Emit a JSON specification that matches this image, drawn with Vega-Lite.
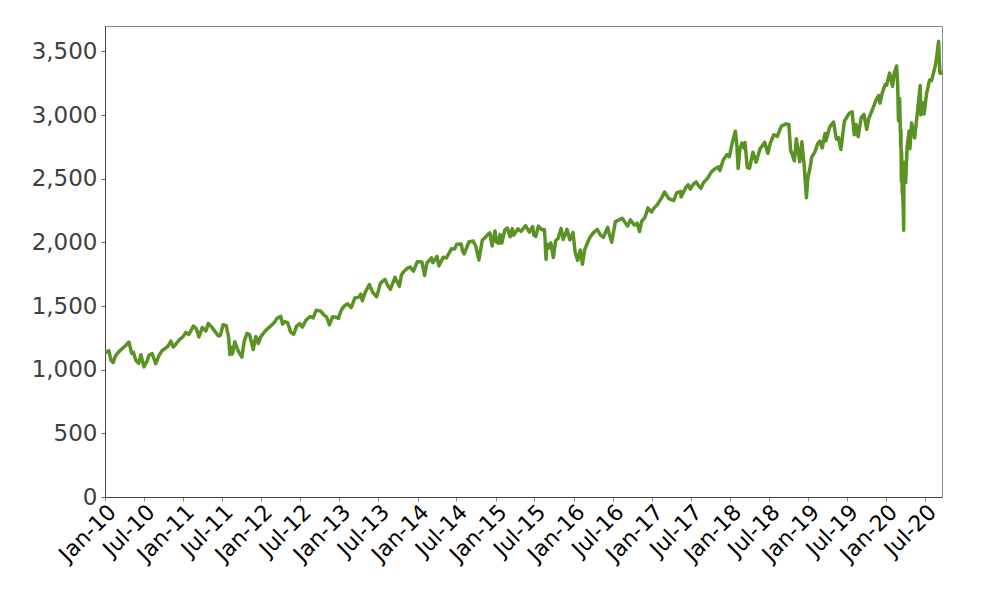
{
  "$schema": "https://vega.github.io/schema/vega-lite/v6.json",
  "width": 837,
  "height": 471,
  "autosize": "none",
  "padding": {"left": 105, "top": 26, "right": 58, "bottom": 103},
  "background": "white",
  "config": {
    "view": {"stroke": "#8a8a8a", "strokeWidth": 1},
    "font": "DejaVu Sans"
  },
  "data": {"values": [
    {"d":"2010-01-04","v":1133},{"d":"2010-01-19","v":1150},{"d":"2010-01-29","v":1074},{"d":"2010-02-08","v":1056},{"d":"2010-02-19","v":1109},{"d":"2010-03-05","v":1138},{"d":"2010-03-19","v":1160},{"d":"2010-04-05","v":1187},{"d":"2010-04-23","v":1217},{"d":"2010-05-06","v":1128},{"d":"2010-05-14","v":1136},{"d":"2010-05-25","v":1074},{"d":"2010-06-07","v":1050},{"d":"2010-06-18","v":1117},{"d":"2010-07-02","v":1022},{"d":"2010-07-16","v":1065},{"d":"2010-07-26","v":1115},{"d":"2010-08-09","v":1127},{"d":"2010-08-26","v":1047},{"d":"2010-09-10","v":1110},{"d":"2010-09-24","v":1148},{"d":"2010-10-08","v":1165},{"d":"2010-10-22","v":1183},{"d":"2010-11-05","v":1225},{"d":"2010-11-16","v":1178},{"d":"2010-12-01","v":1206},{"d":"2010-12-15","v":1236},{"d":"2010-12-31","v":1258},
    {"d":"2011-01-14","v":1293},{"d":"2011-01-28","v":1276},{"d":"2011-02-18","v":1343},{"d":"2011-03-04","v":1321},{"d":"2011-03-16","v":1257},{"d":"2011-04-01","v":1332},{"d":"2011-04-18","v":1305},{"d":"2011-04-29","v":1364},{"d":"2011-05-13","v":1338},{"d":"2011-05-23","v":1317},{"d":"2011-06-15","v":1265},{"d":"2011-06-24","v":1268},{"d":"2011-07-07","v":1353},{"d":"2011-07-22","v":1345},{"d":"2011-08-02","v":1254},{"d":"2011-08-08","v":1119},{"d":"2011-08-12","v":1179},{"d":"2011-08-19","v":1123},{"d":"2011-08-31","v":1219},{"d":"2011-09-12","v":1162},{"d":"2011-09-22","v":1129},{"d":"2011-10-03","v":1099},{"d":"2011-10-14","v":1225},{"d":"2011-10-27","v":1285},{"d":"2011-11-08","v":1276},{"d":"2011-11-25","v":1159},{"d":"2011-12-07","v":1261},{"d":"2011-12-19","v":1206},{"d":"2011-12-30","v":1258},
    {"d":"2012-01-13","v":1289},{"d":"2012-01-27","v":1316},{"d":"2012-02-15","v":1344},{"d":"2012-03-02","v":1370},{"d":"2012-03-15","v":1403},{"d":"2012-04-02","v":1419},{"d":"2012-04-10","v":1358},{"d":"2012-04-20","v":1378},{"d":"2012-05-04","v":1369},{"d":"2012-05-18","v":1295},{"d":"2012-06-01","v":1278},{"d":"2012-06-15","v":1343},{"d":"2012-06-29","v":1362},{"d":"2012-07-12","v":1334},{"d":"2012-07-27","v":1386},{"d":"2012-08-17","v":1418},{"d":"2012-08-31","v":1406},{"d":"2012-09-14","v":1466},{"d":"2012-10-05","v":1461},{"d":"2012-10-19","v":1433},{"d":"2012-11-02","v":1414},{"d":"2012-11-15","v":1353},{"d":"2012-11-30","v":1416},{"d":"2012-12-14","v":1413},{"d":"2012-12-28","v":1402},{"d":"2012-12-31","v":1426},
    {"d":"2013-01-11","v":1472},{"d":"2013-01-25","v":1503},{"d":"2013-02-08","v":1518},{"d":"2013-02-25","v":1488},{"d":"2013-03-14","v":1563},{"d":"2013-04-02","v":1570},{"d":"2013-04-11","v":1593},{"d":"2013-04-18","v":1541},{"d":"2013-05-03","v":1614},{"d":"2013-05-21","v":1669},{"d":"2013-06-05","v":1609},{"d":"2013-06-24","v":1573},{"d":"2013-07-12","v":1680},{"d":"2013-07-23","v":1696},{"d":"2013-08-02","v":1709},{"d":"2013-08-15","v":1661},{"d":"2013-08-27","v":1631},{"d":"2013-09-18","v":1725},{"d":"2013-10-08","v":1655},{"d":"2013-10-18","v":1745},{"d":"2013-10-29","v":1771},{"d":"2013-11-15","v":1798},{"d":"2013-11-27","v":1807},{"d":"2013-12-13","v":1775},{"d":"2013-12-31","v":1848},
    {"d":"2014-01-15","v":1848},{"d":"2014-01-22","v":1844},{"d":"2014-02-03","v":1741},{"d":"2014-02-14","v":1838},{"d":"2014-03-07","v":1878},{"d":"2014-03-14","v":1841},{"d":"2014-04-02","v":1890},{"d":"2014-04-11","v":1815},{"d":"2014-05-01","v":1883},{"d":"2014-05-16","v":1878},{"d":"2014-06-09","v":1951},{"d":"2014-06-24","v":1949},{"d":"2014-07-03","v":1985},{"d":"2014-07-24","v":1988},{"d":"2014-07-31","v":1931},{"d":"2014-08-07","v":1909},{"d":"2014-08-29","v":2003},{"d":"2014-09-18","v":2011},{"d":"2014-09-30","v":1972},{"d":"2014-10-15","v":1862},{"d":"2014-10-31","v":2018},{"d":"2014-11-14","v":2039},{"d":"2014-11-28","v":2067},{"d":"2014-12-05","v":2075},{"d":"2014-12-16","v":1972},{"d":"2014-12-29","v":2090},
    {"d":"2015-01-06","v":2003},{"d":"2015-01-15","v":1992},{"d":"2015-01-22","v":2063},{"d":"2015-01-30","v":1995},{"d":"2015-02-13","v":2096},{"d":"2015-02-25","v":2113},{"d":"2015-03-10","v":2044},{"d":"2015-03-20","v":2108},{"d":"2015-03-26","v":2056},{"d":"2015-04-15","v":2106},{"d":"2015-04-30","v":2086},{"d":"2015-05-21","v":2131},{"d":"2015-06-08","v":2080},{"d":"2015-06-23","v":2124},{"d":"2015-06-29","v":2057},{"d":"2015-07-08","v":2046},{"d":"2015-07-20","v":2128},{"d":"2015-08-05","v":2100},{"d":"2015-08-17","v":2102},{"d":"2015-08-20","v":2035},{"d":"2015-08-24","v":1893},{"d":"2015-08-25","v":1867},{"d":"2015-08-28","v":1989},{"d":"2015-09-03","v":1951},{"d":"2015-09-16","v":1996},{"d":"2015-09-28","v":1882},{"d":"2015-10-09","v":2015},{"d":"2015-10-20","v":2030},{"d":"2015-11-03","v":2109},{"d":"2015-11-13","v":2023},{"d":"2015-12-01","v":2102},{"d":"2015-12-14","v":2021},{"d":"2015-12-29","v":2078},
    {"d":"2016-01-08","v":1922},{"d":"2016-01-20","v":1859},{"d":"2016-02-01","v":1940},{"d":"2016-02-11","v":1829},{"d":"2016-02-22","v":1946},{"d":"2016-03-17","v":2040},{"d":"2016-04-01","v":2073},{"d":"2016-04-20","v":2102},{"d":"2016-05-06","v":2057},{"d":"2016-05-19","v":2040},{"d":"2016-06-08","v":2119},{"d":"2016-06-15","v":2071},{"d":"2016-06-27","v":2001},{"d":"2016-07-14","v":2163},{"d":"2016-08-15","v":2190},{"d":"2016-09-09","v":2128},{"d":"2016-09-22","v":2177},{"d":"2016-10-11","v":2136},{"d":"2016-10-24","v":2151},{"d":"2016-11-04","v":2085},{"d":"2016-11-14","v":2165},{"d":"2016-11-30","v":2199},{"d":"2016-12-13","v":2271},{"d":"2016-12-30","v":2239},
    {"d":"2017-01-13","v":2275},{"d":"2017-01-26","v":2296},{"d":"2017-02-15","v":2350},{"d":"2017-03-01","v":2396},{"d":"2017-03-21","v":2344},{"d":"2017-04-13","v":2329},{"d":"2017-04-26","v":2388},{"d":"2017-05-16","v":2400},{"d":"2017-05-17","v":2357},{"d":"2017-06-09","v":2432},{"d":"2017-06-19","v":2453},{"d":"2017-06-29","v":2419},{"d":"2017-07-14","v":2459},{"d":"2017-07-27","v":2475},{"d":"2017-08-10","v":2438},{"d":"2017-08-18","v":2425},{"d":"2017-08-31","v":2472},{"d":"2017-09-20","v":2508},{"d":"2017-10-05","v":2552},{"d":"2017-10-20","v":2575},{"d":"2017-11-08","v":2594},{"d":"2017-11-15","v":2564},{"d":"2017-11-30","v":2648},{"d":"2017-12-18","v":2690},{"d":"2017-12-29","v":2674},
    {"d":"2018-01-12","v":2786},{"d":"2018-01-26","v":2873},{"d":"2018-02-02","v":2762},{"d":"2018-02-08","v":2581},{"d":"2018-02-16","v":2732},{"d":"2018-02-26","v":2780},{"d":"2018-03-08","v":2739},{"d":"2018-03-12","v":2784},{"d":"2018-03-23","v":2588},{"d":"2018-04-02","v":2582},{"d":"2018-04-18","v":2708},{"d":"2018-05-03","v":2630},{"d":"2018-05-21","v":2733},{"d":"2018-06-12","v":2787},{"d":"2018-06-27","v":2700},{"d":"2018-07-09","v":2784},{"d":"2018-07-25","v":2846},{"d":"2018-08-10","v":2833},{"d":"2018-08-29","v":2914},{"d":"2018-09-20","v":2931},{"d":"2018-10-03","v":2926},{"d":"2018-10-11","v":2728},{"d":"2018-10-29","v":2641},{"d":"2018-11-07","v":2814},{"d":"2018-11-23","v":2633},{"d":"2018-12-03","v":2790},{"d":"2018-12-14","v":2600},{"d":"2018-12-24","v":2351},{"d":"2018-12-31","v":2507},
    {"d":"2019-01-11","v":2596},{"d":"2019-01-18","v":2671},{"d":"2019-02-01","v":2707},{"d":"2019-02-15","v":2776},{"d":"2019-02-25","v":2796},{"d":"2019-03-08","v":2743},{"d":"2019-03-21","v":2855},{"d":"2019-03-25","v":2798},{"d":"2019-04-12","v":2907},{"d":"2019-04-30","v":2946},{"d":"2019-05-13","v":2812},{"d":"2019-05-23","v":2823},{"d":"2019-06-03","v":2730},{"d":"2019-06-20","v":2954},{"d":"2019-07-12","v":3014},{"d":"2019-07-26","v":3026},{"d":"2019-08-05","v":2845},{"d":"2019-08-13","v":2926},{"d":"2019-08-23","v":2830},{"d":"2019-09-06","v":2979},{"d":"2019-09-19","v":3006},{"d":"2019-10-02","v":2888},{"d":"2019-10-11","v":2970},{"d":"2019-10-28","v":3040},{"d":"2019-11-15","v":3120},{"d":"2019-11-27","v":3154},{"d":"2019-12-03","v":3094},{"d":"2019-12-13","v":3169},{"d":"2019-12-27","v":3241},
    {"d":"2020-01-03","v":3235},{"d":"2020-01-17","v":3330},{"d":"2020-01-31","v":3226},{"d":"2020-02-07","v":3328},{"d":"2020-02-19","v":3386},{"d":"2020-02-24","v":3226},{"d":"2020-02-27","v":2979},{"d":"2020-02-28","v":2954},{"d":"2020-03-03","v":3003},{"d":"2020-03-04","v":3130},{"d":"2020-03-09","v":2747},{"d":"2020-03-10","v":2882},{"d":"2020-03-12","v":2481},{"d":"2020-03-13","v":2711},{"d":"2020-03-16","v":2386},{"d":"2020-03-18","v":2399},{"d":"2020-03-20","v":2305},{"d":"2020-03-23","v":2095},{"d":"2020-03-24","v":2447},{"d":"2020-03-26","v":2630},{"d":"2020-04-01","v":2470},{"d":"2020-04-08","v":2750},{"d":"2020-04-17","v":2875},{"d":"2020-04-21","v":2737},{"d":"2020-04-29","v":2939},{"d":"2020-05-13","v":2820},{"d":"2020-05-27","v":3036},{"d":"2020-06-08","v":3232},{"d":"2020-06-11","v":3002},{"d":"2020-06-19","v":3098},{"d":"2020-06-26","v":3009},{"d":"2020-07-08","v":3169},{"d":"2020-07-22","v":3276},{"d":"2020-07-31","v":3271},{"d":"2020-08-18","v":3390},{"d":"2020-08-28","v":3508},{"d":"2020-09-02","v":3580},{"d":"2020-09-08","v":3331},{"d":"2020-09-10","v":3339},{"d":"2020-09-18","v":3319}
  ]},
  "mark": {"type": "line", "color": "#5a9224", "strokeWidth": 3.5, "strokeJoin": "round"},
  "encoding": {
    "x": {
      "field": "d", "type": "temporal",
      "scale": {"type": "time", "domain": [{"year": 2010, "month": 1, "date": 1}, {"year": 2020, "month": 9, "date": 18}]},
      "axis": {
        "title": null, "format": "%b-%y", "tickCount": {"interval": "month", "step": 6},
        "labelAngle": -45, "labelAlign": "right", "labelBaseline": "top",
        "labelFontSize": 22, "labelColor": "#000000", "labelFont": "DejaVu Sans",
        "labelPadding": 0, "labelOverlap": false, "labelFlush": false,
        "grid": false, "domainColor": "#444444", "tickColor": "#888888", "tickSize": 4
      }
    },
    "y": {
      "field": "v", "type": "quantitative",
      "scale": {"domain": [0, 3700], "nice": false, "zero": true},
      "axis": {
        "title": null, "values": [0, 500, 1000, 1500, 2000, 2500, 3000, 3500], "format": ",d",
        "labelFontSize": 23, "labelColor": "#404040", "labelFont": "DejaVu Sans",
        "labelPadding": 4, "grid": false, "domainColor": "#444444", "tickColor": "#666666", "tickSize": 4
      }
    }
  }
}
